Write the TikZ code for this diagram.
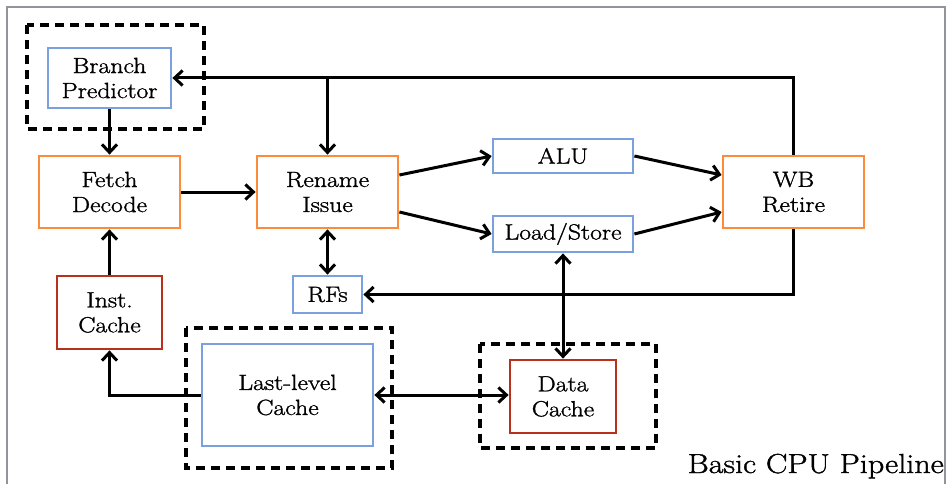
\documentclass[tikz,border=0pt]{standalone}
\usepackage{fontspec}
\setmainfont{Latin Modern Roman}[FakeStretch=1.17, FakeBold=1.3]
\usetikzlibrary{arrows.meta,calc}

\definecolor{stageorange}{RGB}{250,140,60}
\definecolor{unitblue}{RGB}{122,160,222}
\definecolor{cachered}{RGB}{185,48,28}
\definecolor{framegray}{RGB}{145,148,155}

\tikzset{
  blk/.style={draw, line width=2.8pt, inner sep=0pt, align=center,
    font=\fontsize{22}{25}\selectfont, fill=white},
  stagebox/.style={blk, draw=stageorange},
  unitbox/.style={blk, draw=unitblue},
  cachebox/.style={blk, draw=cachered},
  groupbox/.style={draw=black, line width=3.4pt, dash pattern=on 9pt off 6pt},
  link/.style={draw=black, line width=3pt,
    -{Straight Barb[length=8pt,width=15pt,line width=3pt]}},
  dlink/.style={draw=black, line width=3pt,
    {Straight Barb[length=8pt,width=15pt,line width=3pt]}-{Straight Barb[length=8pt,width=15pt,line width=3pt]}},
}

\begin{document}
\begin{tikzpicture}[x=1pt,y=-1pt]
  \useasboundingbox (0,0) rectangle (950,484);

  % outer frame (open at the bottom)
  \draw[framegray, line width=1.6pt] (7,484) -- (7,7) -- (945,7) -- (945,484);

  % dashed grouping boxes
  \draw[groupbox] (27,25) rectangle (204,129);
  \draw[groupbox] (186,328) rectangle (392,468);
  \draw[groupbox] (480,344) rectangle (656,448);

  % pipeline blocks
  \node[unitbox,  minimum width=123pt, minimum height=60pt]  (bp)  at (109.5,78)   {Branch\\Predictor};
  \node[stagebox, minimum width=141pt, minimum height=72pt]  (fd)  at (109.5,192)  {Fetch\\Decode};
  \node[stagebox, minimum width=141pt, minimum height=72pt]  (rn)  at (327.5,192)  {Rename\\Issue};
  \node[unitbox,  minimum width=140pt, minimum height=34pt]  (alu) at (563,156)    {ALU};
  \node[unitbox,  minimum width=140pt, minimum height=36pt]  (ls)  at (563,234)    {Load/Store};
  \node[stagebox, minimum width=141pt, minimum height=72pt]  (wb)  at (793.5,192)  {WB\\Retire};
  \node[unitbox,  minimum width=69pt,  minimum height=37pt]  (rf)  at (327.5,294.5){RFs};
  \node[cachebox, minimum width=105pt, minimum height=73pt]  (ic)  at (109.5,312.5){Inst.\\Cache};
  \node[unitbox,  minimum width=171pt, minimum height=102pt] (llc) at (287.5,395)  {Last-level\\Cache};
  \node[cachebox, minimum width=106pt, minimum height=73pt]  (dc)  at (563,396.5)  {Data\\Cache};

  % front end
  \draw[link] (bp.south) -- (fd.north);
  \draw[link] (fd.east) -- (rn.west);
  \draw[link] (ic.north) -- (fd.south);
  \draw[link] (llc.west) -| (ic.south);

  % issue to execution units and retire
  \draw[link] ([yshift=17pt]rn.east) -- (alu.west);
  \draw[link] ([yshift=-20pt]rn.east) -- (ls.west);
  \draw[link] (alu.east) -- ([yshift=17pt]wb.west);
  \draw[link] (ls.east) -- ([yshift=-20pt]wb.west);

  % feedback from retire
  \coordinate (fbk) at (rn.north |- bp.east);
  \draw[link] (wb.north) |- (bp.east);
  \draw[link] (fbk) -- (rn.north);
  \draw[link] (wb.south) |- (rf.east);

  % register file and memory paths
  \draw[dlink] (rn.south) -- (rf.north);
  \draw[dlink] (ls.south) -- (dc.north);
  \draw[dlink] (llc.east) -- (llc.east -| dc.west);

  % caption
  \node[anchor=base east, inner sep=0pt, font=\fontsize{27.5}{32}\selectfont]
    (cap) at (944,473) {Basic CPU Pipeline};
\end{tikzpicture}
\end{document}
